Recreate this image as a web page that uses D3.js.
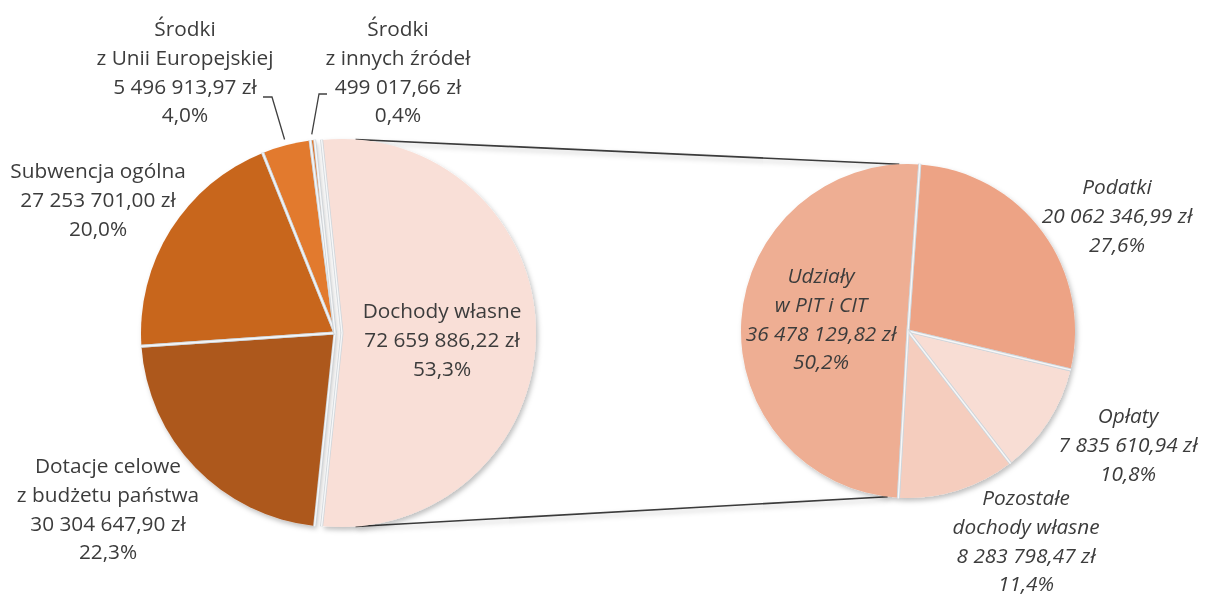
<!DOCTYPE html>
<html><head><meta charset="utf-8">
<script src="https://cdnjs.cloudflare.com/ajax/libs/d3/7.8.5/d3.min.js"></script>
<style>
html,body{margin:0;padding:0;background:#fff;}
svg{display:block;}
text{font-family:"Open Sans",Lato,sans-serif;fill:#3c3c3c;}
</style></head>
<body>
<svg id="chart" width="1209" height="596"></svg>
<script>
// ---- data ----
const leftCategories = ["Dochody własne", "Dotacje celowe z budżetu państwa", "Subwencja ogólna", "Środki z Unii Europejskiej", "Środki z innych źródeł"];
const leftLabelLines = [["Dochody własne"], ["Dotacje celowe", "z budżetu państwa"], ["Subwencja ogólna"], ["Środki", "z Unii Europejskiej"], ["Środki", "z innych źródeł"]];
const leftValues = [72659886.22, 30304647.90, 27253701.00, 5496913.97, 499017.66];
const leftPercents = ["53,3%", "22,3%", "20,0%", "4,0%", "0,4%"];

const rightCategories = ["Udziały w PIT i CIT", "Podatki", "Opłaty", "Pozostałe dochody własne"];
const rightLabelLines = [["Udziały", "w PIT i CIT"], ["Podatki"], ["Opłaty"], ["Pozostałe", "dochody własne"]];
const rightValues = [36478129.82, 20062346.99, 7835610.94, 8283798.47];
const rightPercents = ["50,2%", "27,6%", "10,8%", "11,4%"];

// ---- styles / layout ----
const leftColors = ["#F9DFD7", "#AD591F", "#C8661F", "#E27A2F", "#E0782E"];
const rightColors = ["#EEAE93", "#EDA385", "#F8DDD4", "#F5CDBE"];
const gapColor = "#cfd5da";
const L = {cx: 335, cy: 333, r: 194, explode: 7};
const R = {cx: 908, cy: 331, r: 167, startDeg: 183.3};
const fontSize = 20.8;
const lineH = 28.8;
const leftLabelPos = [[442, 318], [108, 473], [98, 178], [185, 36], [398, 36]];
const rightLabelPos = [[821, 283], [1117, 194], [1128, 423], [1026, 505]];
const leftLeaders = {3: [[263, 97], [272, 97]], 4: [[327, 94], [319, 94]]};

const loc = d3.formatLocale({decimal: ",", thousands: "\u00a0", grouping: [3], currency: ["", ""]});
const fmtMoney = v => loc.format(",.2f")(v) + " zł";

const svg = d3.select("#chart");
const defs = svg.append("defs");
const f = defs.append("filter").attr("id", "sh").attr("x", "-20%").attr("y", "-20%").attr("width", "140%").attr("height", "140%");
f.append("feDropShadow").attr("dx", 2).attr("dy", 3).attr("stdDeviation", 2.5).attr("flood-color", "#000").attr("flood-opacity", 0.25);

const deg = Math.PI / 180;
const leftTotal = d3.sum(leftValues);
const otherFrac = leftValues[0] / leftTotal;
const leftStart = Math.PI / 2 - otherFrac * Math.PI;
const leftPie = d3.pie().sort(null).startAngle(leftStart).endAngle(leftStart + 2 * Math.PI);
const leftArcs = leftPie(leftValues);
const leftArc = d3.arc().innerRadius(0).outerRadius(L.r);

const rightPie = d3.pie().sort(null).startAngle(R.startDeg * deg).endAngle(R.startDeg * deg + 2 * Math.PI);
const rightArcs = rightPie(rightValues);
const rightArc = d3.arc().innerRadius(0).outerRadius(R.r);

const pt = (cx, cy, r, a) => [cx + r * Math.sin(a), cy - r * Math.cos(a)];

// connector lines (drawn first)
const pinkCx = L.cx + L.explode;
const conn = [
  [pt(pinkCx, L.cy, L.r, 4 * deg), pt(R.cx, R.cy, R.r, -3 * deg)],
  [pt(pinkCx, L.cy, L.r, 176 * deg), pt(R.cx, R.cy, R.r, 187 * deg)]
];
svg.append("g").attr("filter", "url(#sh)").selectAll("line").data(conn).join("line")
  .attr("x1", d => d[0][0]).attr("y1", d => d[0][1]).attr("x2", d => d[1][0]).attr("y2", d => d[1][1])
  .attr("stroke", "#3a3a3a").attr("stroke-width", 1.6);

function drawPie(arcs, arcGen, colors, cx, cy, r, explodeFirst) {
  const g = svg.append("g").attr("filter", "url(#sh)");
  g.selectAll("path").data(arcs).join("path")
    .attr("transform", (d, i) => `translate(${cx + (i === 0 ? explodeFirst : 0)},${cy})`)
    .attr("d", arcGen)
    .attr("fill", (d, i) => colors[i]);
  // separators between slices
  const gl = svg.append("g");
  arcs.forEach((d, i) => {
    const ox = cx + (i === 0 ? explodeFirst : 0);
    [d.startAngle, d.endAngle].forEach(a => {
      const p = pt(ox, cy, r + 0.5, a);
      gl.append("line").attr("x1", ox).attr("y1", cy).attr("x2", p[0]).attr("y2", p[1])
        .attr("stroke", gapColor).attr("stroke-width", 3);
      gl.append("line").attr("x1", ox).attr("y1", cy).attr("x2", p[0]).attr("y2", p[1])
        .attr("stroke", "#f6f7f8").attr("stroke-width", 1.4);
    });
  });
}
drawPie(leftArcs, leftArc, leftColors, L.cx, L.cy, L.r, L.explode);
drawPie(rightArcs, rightArc, rightColors, R.cx, R.cy, R.r, 0);

// leader lines
Object.keys(leftLeaders).forEach(k => {
  const i = +k, a = leftArcs[i];
  const mid = (a.startAngle + a.endAngle) / 2;
  const p = pt(L.cx, L.cy, L.r + 6, mid);
  const pts = leftLeaders[k].concat([p]);
  svg.append("path").attr("d", d3.line()(pts)).attr("fill", "none").attr("stroke", "#404040").attr("stroke-width", 1.3);
});

function label(lines, pos, italic) {
  const t = svg.append("text").attr("text-anchor", "middle").attr("font-size", fontSize)
    .attr("font-style", italic ? "italic" : "normal");
  lines.forEach((s, j) => {
    t.append("tspan").attr("x", pos[0]).attr("y", pos[1] + j * lineH).text(s);
  });
}
leftValues.forEach((v, i) => {
  label(leftLabelLines[i].concat([fmtMoney(v), leftPercents[i]]), leftLabelPos[i], false);
});
rightValues.forEach((v, i) => {
  label(rightLabelLines[i].concat([fmtMoney(v), rightPercents[i]]), rightLabelPos[i], true);
});
</script>
</body></html>
